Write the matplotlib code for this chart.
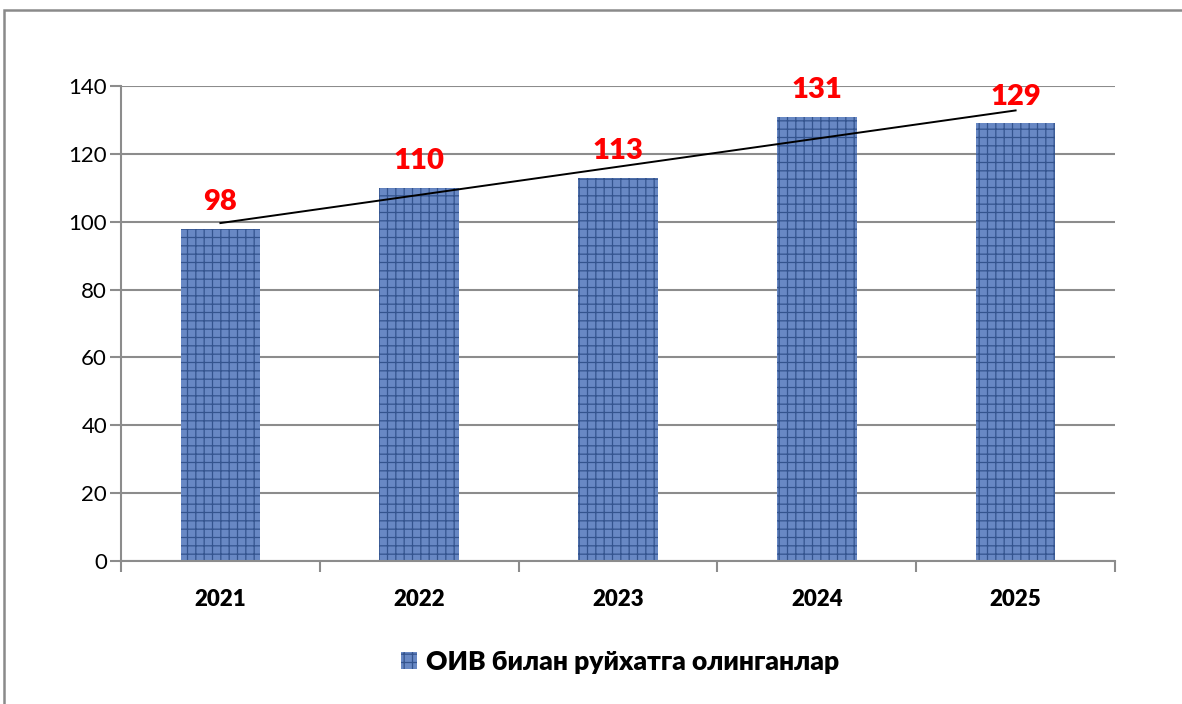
import numpy as np
import matplotlib
matplotlib.use("Agg")
import matplotlib.pyplot as plt
from matplotlib.patches import Rectangle, Patch

# data
years = ["2021", "2022", "2023", "2024", "2025"]
counts = [98, 110, 113, 131, 129]
series_name = "ОИВ билан руйхатга олинганлар"

plt.rcParams['font.family'] = ['Lato', 'Noto Sans', 'DejaVu Sans']
plt.rcParams['hatch.linewidth'] = 0.9

bar_face = '#6888c4'
bar_hatch = '#34548e'
grid_col = '#8c8c8c'

fig = plt.figure(figsize=(11.82, 7.04), dpi=100)
ax = fig.add_axes([121 / 1182, 1 - 561 / 704, (1115 - 121) / 1182, (561 - 86) / 704])

# outer chart frame (runs off the right and bottom edges)
fig.patches.append(Rectangle((4 / 1182, -0.1), 1.2, 1 - 10 / 704 + 0.1,
                             transform=fig.transFigure, fill=False,
                             edgecolor='#8a8a8a', linewidth=1.8, zorder=0))

x = np.arange(len(years))
ax.bar(x, counts, width=0.4, color=bar_face, edgecolor=bar_hatch,
       linewidth=0, hatch='++', zorder=2)

# labels above bars
for xi, v in zip(x, counts):
    ax.text(xi, v + 4.0, str(v), ha='center', va='bottom', color='#ff0000',
            fontsize=21, fontweight='heavy', zorder=4)

# linear trend line
k, b = np.polyfit(x, counts, 1)
ax.plot([x[0], x[-1]], [k * x[0] + b, k * x[-1] + b], color='black',
        linewidth=1.4, zorder=3)

ax.set_xlim(-0.5, len(years) - 0.5)
ax.set_ylim(0, 140)
ax.set_yticks(np.arange(0, 141, 20))
ax.yaxis.grid(True, color=grid_col, linewidth=1.5, zorder=0)
ax.set_axisbelow(True)

ax.set_xticks(x)
ax.set_xticklabels(years, fontsize=16, fontweight='heavy')
ax.set_xticks(np.arange(-0.5, len(years), 1), minor=True)
ax.tick_params(axis='x', which='major', length=0, pad=20)
ax.tick_params(axis='x', which='minor', length=8, width=1.5, color=grid_col,
               direction='out')
ax.tick_params(axis='y', length=8, width=1.5, color=grid_col, labelsize=16,
               pad=2)

for side in ['top', 'right']:
    ax.spines[side].set_visible(False)
for side in ['left', 'bottom']:
    ax.spines[side].set_color(grid_col)
    ax.spines[side].set_linewidth(1.5)

handle = Patch(facecolor=bar_face, edgecolor=bar_hatch, hatch='++', linewidth=0)
fig.legend([handle], [series_name], loc='center', bbox_to_anchor=(620 / 1182, 1 - 662 / 704),
           frameon=False, prop={'size': 19, 'weight': 'heavy'},
           handlelength=0.6, handleheight=0.6, handletextpad=0.35)

fig.savefig("out.png", dpi=100)
